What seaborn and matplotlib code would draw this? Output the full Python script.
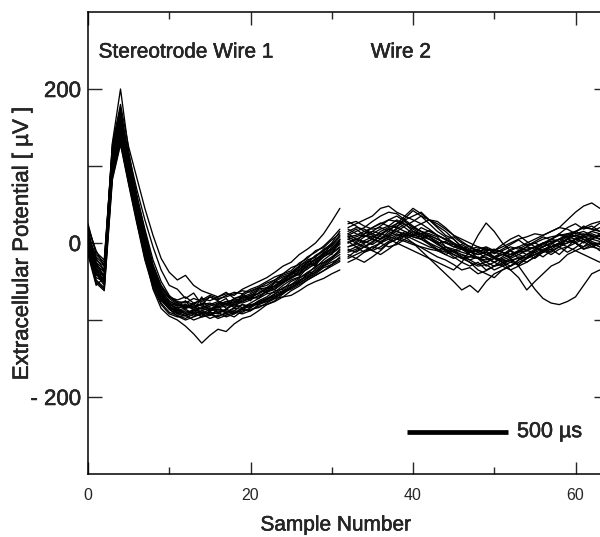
import numpy as np
import pandas as pd
import matplotlib
matplotlib.use("Agg")
import matplotlib.pyplot as plt
import matplotlib.patheffects as pe
import seaborn as sns

# samples 0-31 come from wire 1, samples 32-63 from wire 2 (values in uV)
wire1_samples = list(range(0, 32))
wire2_samples = list(range(32, 64))

wire1 = [
    [5, -30, -42, 105, 148, 92, 40, -5, -45, -68, -80, -86, -90, -88, -85, -88, -83, -80, -82, -76, -72, -70, -62, -58, -50, -45, -36, -30, -20, -16, -6, 2],
    [10, -20, -35, 130, 200, 120, 60, 10, -35, -62, -75, -82, -80, -84, -78, -80, -76, -79, -72, -70, -66, -60, -58, -50, -44, -40, -30, -24, -18, -10, -4, 5],
    [0, -40, -55, 90, 135, 85, 35, -15, -60, -85, -95, -100, -108, -118, -130, -120, -112, -115, -105, -98, -95, -88, -80, -75, -66, -58, -52, -45, -38, -30, -22, -15],
    [20, -10, -30, 115, 160, 100, 55, 12, -30, -55, -70, -78, -76, -80, -72, -75, -70, -66, -68, -60, -55, -50, -45, -38, -30, -25, -15, -8, 0, 12, 28, 45],
    [-10, -45, -50, 95, 140, 80, 30, -20, -55, -75, -85, -88, -92, -95, -90, -93, -88, -90, -85, -86, -80, -78, -72, -70, -62, -58, -50, -42, -38, -30, -25, -20],
    [5, -25, -35, 120, 170, 115, 70, 30, -5, -35, -55, -60, -72, -65, -80, -70, -75, -85, -78, -70, -72, -65, -60, -52, -48, -40, -35, -25, -22, -12, -8, 0],
    [15, -35, -48, 100, 145, 90, 42, -2, -42, -70, -82, -90, -86, -92, -88, -84, -90, -86, -80, -84, -78, -72, -66, -64, -55, -48, -44, -32, -28, -18, -12, -5],
    [-5, -50, -60, 85, 130, 78, 28, -18, -52, -72, -82, -92, -95, -90, -96, -92, -98, -94, -90, -92, -88, -82, -80, -76, -70, -68, -62, -55, -50, -46, -40, -35],
    [8, -28, -38, 110, 155, 98, 48, 5, -38, -62, -76, -80, -84, -78, -82, -86, -80, -76, -78, -72, -68, -62, -64, -55, -48, -42, -34, -28, -22, -14, -2, 10],
    [0, -32, -45, 102, 150, 96, 45, 0, -40, -64, -78, -82, -75, -88, -70, -90, -78, -72, -85, -66, -75, -58, -65, -50, -52, -38, -42, -25, -30, -12, -15, 5],
    [12, -22, -30, 125, 175, 108, 55, 8, -36, -60, -72, -80, -85, -82, -80, -78, -82, -76, -74, -76, -70, -65, -58, -56, -46, -40, -32, -26, -16, -10, 0, 15],
    [-8, -42, -40, 92, 138, 84, 34, -12, -50, -74, -86, -92, -88, -92, -95, -88, -86, -90, -84, -80, -82, -75, -70, -62, -60, -50, -45, -40, -30, -25, -18, -10],
    [25, -15, -25, 118, 165, 105, 50, 6, -32, -58, -70, -76, -78, -72, -76, -70, -74, -68, -64, -66, -60, -56, -50, -44, -40, -32, -28, -18, -12, -4, 6, 18],
    [3, -38, -52, 98, 142, 88, 38, -8, -48, -70, -84, -86, -92, -86, -90, -94, -86, -88, -92, -84, -80, -80, -74, -68, -64, -56, -48, -44, -34, -26, -20, -8],
    [10, -18, -28, 128, 180, 125, 85, 45, 10, -20, -38, -48, -42, -55, -62, -66, -70, -64, -72, -68, -62, -58, -55, -48, -42, -38, -30, -22, -18, -8, -2, 8],
    [-15, -55, -45, 88, 132, 80, 32, -16, -55, -78, -90, -94, -98, -92, -88, -92, -96, -90, -88, -90, -84, -78, -76, -70, -66, -58, -52, -46, -40, -32, -28, -22],
    [18, -25, -45, 108, 158, 100, 50, 2, -40, -66, -80, -84, -82, -86, -84, -80, -84, -82, -76, -78, -74, -68, -64, -60, -52, -46, -40, -34, -26, -18, -10, -2],
    [-2, -48, -58, 94, 146, 90, 42, -6, -46, -72, -86, -95, -100, -96, -92, -98, -94, -92, -96, -88, -86, -84, -78, -72, -70, -62, -56, -48, -42, -36, -28, -18],
    [8, -30, -36, 112, 168, 110, 62, 18, -22, -50, -68, -78, -82, -80, -86, -82, -78, -80, -74, -72, -68, -66, -60, -56, -50, -44, -38, -30, -24, -16, -8, 4],
    [2, -36, -50, 100, 150, 94, 44, -4, -44, -68, -82, -88, -84, -80, -92, -86, -82, -92, -88, -80, -84, -76, -72, -66, -58, -54, -46, -38, -32, -22, -14, -6],
    [-12, -52, -62, 82, 128, 76, 26, -22, -58, -80, -92, -96, -94, -100, -96, -94, -90, -96, -92, -86, -88, -80, -76, -72, -64, -60, -54, -48, -42, -36, -30, -24],
    [22, -12, -22, 122, 172, 112, 62, 15, -28, -56, -70, -74, -70, -78, -74, -68, -72, -70, -66, -62, -64, -58, -52, -48, -40, -36, -26, -20, -10, -6, 4, 12],
    [6, -34, -44, 106, 152, 96, 46, -2, -42, -66, -78, -86, -80, -84, -80, -86, -84, -78, -80, -74, -70, -72, -62, -60, -52, -44, -40, -30, -26, -14, -8, 0],
    [-4, -40, -50, 96, 144, 86, 36, -10, -50, -72, -84, -90, -94, -88, -92, -90, -92, -86, -90, -86, -82, -76, -74, -66, -62, -54, -50, -40, -36, -28, -20, -12],
]

wire2 = [
    [10, 15, 20, 28, 35, 40, 38, 30, 22, 15, 10, 5, 0, -5, -8, -12, -10, -15, -18, -12, -15, -10, -8, -5, 0, 2, 5, 8, 10, 12, 8, 10],
    [-10, -5, 0, 5, 15, 20, 25, 30, 35, 40, 30, 20, 10, 5, -5, -10, -20, -25, -30, -28, -22, -20, -15, -10, -5, 0, 5, 10, 15, 20, 18, 15],
    [5, 0, -5, -10, -15, -8, 0, 10, 20, 25, 30, 22, 15, 5, -5, -15, -20, -30, -25, -18, -10, -15, -20, -10, -5, 0, -5, 5, 10, 5, 0, -5],
    [0, 5, 10, 8, 12, 18, 15, 10, 5, 0, -5, -8, -12, -10, -15, -18, -20, -15, -10, -12, -20, -30, -45, -60, -72, -78, -80, -76, -70, -55, -40, -35],
    [-5, -2, 3, 8, 5, 10, 15, 12, 8, 5, 0, -5, -10, -15, -20, -18, -12, -8, -10, -5, 0, 5, 8, 12, 10, 15, 20, 30, 40, 48, 52, 45],
    [15, 20, 18, 12, 8, 5, 0, -5, -10, -15, -20, -25, -30, -35, -25, -10, 10, 26, 15, 0, -10, -20, -25, -18, -10, -5, 0, 5, 0, -5, 5, 10],
    [-20, -15, -10, -5, 0, 5, 10, 8, 0, -10, -20, -30, -40, -50, -61, -55, -64, -50, -40, -35, -30, -25, -20, -15, -10, -12, -5, 0, 5, 8, 10, 5],
    [20, 25, 30, 35, 45, 48, 40, 35, 30, 25, 18, 10, 5, 0, -5, -10, -8, -15, -12, -10, -5, -8, -2, 0, 5, 8, 10, 12, 15, 10, 12, 8],
    [-15, -20, -25, -18, -10, 0, 5, 15, 10, 20, 15, 10, 5, 8, 0, -5, -10, -15, -20, -25, -35, -45, -61, -50, -40, -30, -25, -15, -10, -5, 0, -5],
    [0, 5, 2, -2, 5, 15, 25, 35, 45, 38, 30, 28, 20, 10, 5, 0, -5, -8, -12, -15, -10, -5, -10, -5, 0, -5, 0, 5, 2, 8, 5, 12],
    [5, 8, 12, 15, 12, 8, 5, 2, -2, -5, -8, -10, -5, -8, -12, -15, -20, -22, -18, -15, -18, -12, -10, -12, -8, -5, -2, 0, 5, 10, 15, 20],
    [25, 28, 22, 18, 20, 15, 10, 12, 8, 5, 10, 5, 0, -2, -5, -10, -15, -12, -18, -22, -25, -28, -20, -15, -10, -5, -2, 5, 0, -8, -5, 0],
    [-25, -20, -12, -5, -8, 0, 5, 10, 15, 12, 5, 0, -8, -15, -20, -25, -30, -28, -35, -30, -25, -18, -20, -15, -10, -15, -8, -5, -10, -15, -20, -25],
    [8, 10, 15, 20, 25, 30, 28, 20, 12, 5, -2, -10, -15, -20, -15, -22, -18, -25, -20, -15, -8, -5, 0, 5, 10, 15, 20, 18, 12, 15, 10, 5],
    [-8, -12, -5, 0, 10, 18, 22, 28, 20, 15, 12, 8, -5, -10, -18, -25, -35, -40, -45, -35, -30, -22, -18, -10, -5, 5, 10, 8, 15, 20, 25, 28],
    [12, 5, 0, 5, 2, 8, 12, 8, 15, 10, 5, 0, 2, -5, -2, -8, -5, -10, -8, -12, -15, -10, -5, 0, -5, 0, 5, 2, 0, 5, -2, 0],
    [18, 12, 8, 15, 22, 30, 35, 28, 20, 15, 8, 2, -5, -12, -8, -15, -20, -18, -25, -20, -15, -12, -5, -8, 0, 5, 2, 8, 5, 10, 15, 12],
    [-18, -10, -5, 2, 10, 18, 15, 22, 28, 35, 30, 25, 18, 10, 2, -5, -12, -20, -25, -30, -35, -30, -25, -18, -12, -5, 0, -5, 5, 2, 8, 5],
    [2, -5, -12, -8, 0, 8, 20, 32, 42, 35, 25, 15, 8, 0, -8, -12, -15, -10, -18, -25, -20, -15, -10, -5, -12, -8, -2, 5, 10, 8, 2, -2],
    [12, 18, 10, 5, 0, -5, -2, 5, 10, 12, 8, 0, -10, -18, -25, -30, -25, -35, -30, -22, -18, -10, -15, -8, -2, 5, 12, 20, 25, 18, 22, 15],
    [-5, 0, 8, 12, 18, 22, 20, 15, 10, 8, 5, -2, -8, -12, -18, -22, -28, -25, -20, -25, -30, -22, -15, -20, -12, -8, -15, -5, 0, -8, -2, -10],
    [28, 22, 15, 10, 5, 12, 18, 25, 15, 8, 0, -8, -15, -10, -5, -12, -8, -5, -10, -2, 5, 10, 2, -5, -10, -2, 5, 12, 8, 0, 5, 2],
    [-12, -8, -2, -10, -5, 2, 8, 4, 0, -6, -12, -18, -22, -28, -35, -32, -40, -36, -30, -26, -22, -28, -20, -12, -18, -10, -5, -12, -6, 2, -5, -8],
    [8, 2, 12, 20, 26, 22, 30, 24, 18, 12, 16, 10, 4, -2, -8, -4, -12, -6, -14, -8, -2, 4, -4, 2, 8, 4, 12, 6, 14, 22, 18, 26],
]

y_ticks = [-200, -100, 0, 100, 200]
y_labels = ["- 200", "", "0", "", "200"]
x_ticks = [0, 20, 40, 60]
x_minor = [10, 30, 50]

# scale bar: 500 us = 12.5 samples (40 us per sample)
bar_start = 39.2
bar_len = 12.5
bar_y = -245

rows = []
for wname, samples, traces in [("w1", wire1_samples, wire1), ("w2", wire2_samples, wire2)]:
    for i, tr in enumerate(traces):
        for s, v in zip(samples, tr):
            rows.append({"trace": f"{wname}_{i}", "sample": s, "uv": v})
df = pd.DataFrame(rows)

sns.set_style("ticks")
plt.rcParams["font.family"] = ["Liberation Sans", "DejaVu Sans"]

# the scanned print has slightly heavier letters
heavy = [pe.withStroke(linewidth=0.35, foreground="black")]

fig = plt.figure(figsize=(6.0, 5.37), dpi=100)
ax = fig.add_axes([88 / 600, 63 / 537, 520 / 600, 462 / 537])

sns.lineplot(data=df, x="sample", y="uv", units="trace", estimator=None,
             color="black", lw=0.95, legend=False, ax=ax)

ax.plot([bar_start, bar_start + bar_len], [bar_y, bar_y], color="black", lw=3.4,
        solid_capstyle="butt")
ax.text(bar_start + bar_len + 1.1, bar_y, "500 µs", fontsize=15.5, va="center",
        ha="left", path_effects=heavy)

ax.text(1.3, 248, "Stereotrode Wire 1", fontsize=15, va="center", ha="left",
        path_effects=heavy)
ax.text(34.8, 248, "Wire 2", fontsize=15, va="center", ha="left", path_effects=heavy)

ax.set_xlim(0, 64)
ax.set_ylim(-300, 300)
ax.set_xticks(x_ticks)
ax.set_xticks(x_minor, minor=True)
ax.set_yticks(y_ticks)
ax.set_yticklabels(y_labels)
ax.tick_params(axis="x", which="major", direction="in", length=9, width=1,
               top=True, labelsize=11.5, pad=10)
ax.tick_params(axis="x", which="minor", direction="in", length=5, width=1, top=True)
ax.tick_params(axis="y", which="major", direction="in", length=10, width=1,
               right=True, labelsize=16, pad=5)
for lab in ax.get_yticklabels():
    lab.set_path_effects(heavy)
for sp in ax.spines.values():
    sp.set_linewidth(1.1)
    sp.set_color("black")

ax.set_xlabel("")
ax.set_ylabel("Extracellular Potential [ µV ]", fontsize=16, path_effects=heavy)
ax.yaxis.set_label_coords(-0.106, 0.5)
fig.text(336 / 600, 1 - 525 / 537, "Sample Number", fontsize=15, ha="center",
         va="center", path_effects=heavy)

fig.savefig("out.png", dpi=100)
